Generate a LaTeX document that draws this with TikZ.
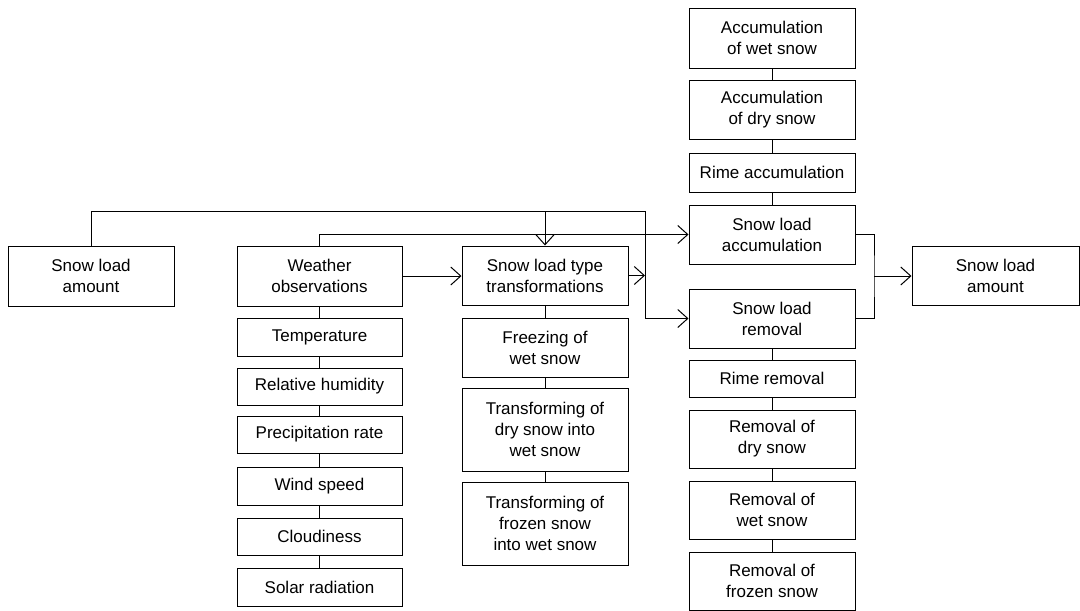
\documentclass[tikz,border=0pt]{standalone}
\usepackage{fontspec}
\setmainfont{Liberation Sans}
\usetikzlibrary{arrows.meta}
\tikzset{
  box/.style={draw=black, line width=1pt, fill=white, align=center, inner sep=2pt,
    font=\fontsize{17}{21}\selectfont},
  link/.style={draw=black, line width=1pt},
  arr/.style={link, -{Straight Barb[length=10pt,width=18pt,line width=1pt]}}
}
\begin{document}
\begin{tikzpicture}[x=1pt,y=-1pt]
\useasboundingbox (0,0) rectangle (1080,611);
% left
\node[box, minimum width=166pt, minimum height=60pt] (amt1) at (91,276) {Snow load\\amount};
% weather column
\node[box, minimum width=165pt, minimum height=60pt] (wo) at (319.5,276) {Weather\\observations};
\node[box, minimum width=165pt, minimum height=38pt] (temp) at (319.5,337) {Temperature};
\node[box, minimum width=165pt, minimum height=37pt] (rh) at (319.5,386.5) {Relative humidity};
\node[box, minimum width=165pt, minimum height=37pt] (pr) at (319.5,434.5) {Precipitation rate};
\node[box, minimum width=165pt, minimum height=38pt] (ws) at (319.5,486) {Wind speed};
\node[box, minimum width=165pt, minimum height=37pt] (cl) at (319.5,536.5) {Cloudiness};
\node[box, minimum width=165pt, minimum height=38pt] (sr) at (319.5,587) {Solar radiation};
% transformation column
\node[box, minimum width=166pt, minimum height=59pt] (stt) at (545,275.5) {Snow load type\\transformations};
\node[box, minimum width=166pt, minimum height=59pt] (fz) at (545,347.5) {Freezing of\\wet snow};
\node[box, minimum width=166pt, minimum height=83pt] (dw) at (545,429.5) {Transforming of\\dry snow into\\wet snow};
\node[box, minimum width=166pt, minimum height=83pt] (fw) at (545,523.5) {Transforming of\\frozen snow\\into wet snow};
% accumulation / removal column
\node[box, minimum width=166pt, minimum height=60pt] (aw) at (772,38) {Accumulation\\of wet snow};
\node[box, minimum width=166pt, minimum height=59pt] (ad) at (772,109.5) {Accumulation\\of dry snow};
\node[box, minimum width=166pt, minimum height=39pt] (ra) at (772,172.5) {Rime accumulation};
\node[box, minimum width=166pt, minimum height=59pt] (sla) at (772,234.5) {Snow load\\accumulation};
\node[box, minimum width=166pt, minimum height=59pt] (slr) at (772,318.5) {Snow load\\removal};
\node[box, minimum width=166pt, minimum height=37pt] (rr) at (772,378.5) {Rime removal};
\node[box, minimum width=166pt, minimum height=58pt] (rd) at (772,439) {Removal of\\dry snow};
\node[box, minimum width=166pt, minimum height=58pt] (rw) at (772,510) {Removal of\\wet snow};
\node[box, minimum width=166pt, minimum height=58pt] (rf) at (772,581) {Removal of\\frozen snow};
% right
\node[box, minimum width=167pt, minimum height=59pt] (amt2) at (995.5,275.5) {Snow load\\amount};
% junction coordinates
\coordinate (j1) at (645,211);
\coordinate (j2) at (874,276);
% connectors
\draw[arr] (amt1.north) |- (j1) |- (slr.west);
\draw[arr] (stt.north |- j1) -- (stt.north);
\draw[arr] (wo.north) |- (sla.west);
\draw[arr] (wo.east) -- (wo.east -| stt.west);
\draw[arr] (stt.east) -- (stt.east -| j1);
\draw[link] (sla.east) -| (j2) |- (slr.east);
\draw[arr] (j2) -- (j2 -| amt2.west);
% column links
\draw[link] (wo.south) -- (temp.north);
\draw[link] (temp.south) -- (rh.north);
\draw[link] (rh.south) -- (pr.north);
\draw[link] (pr.south) -- (ws.north);
\draw[link] (ws.south) -- (cl.north);
\draw[link] (cl.south) -- (sr.north);
\draw[link] (stt.south) -- (fz.north);
\draw[link] (fz.south) -- (dw.north);
\draw[link] (dw.south) -- (fw.north);
\draw[link] (aw.south) -- (ad.north);
\draw[link] (ad.south) -- (ra.north);
\draw[link] (ra.south) -- (sla.north);
\draw[link] (slr.south) -- (rr.north);
\draw[link] (rr.south) -- (rd.north);
\draw[link] (rd.south) -- (rw.north);
\draw[link] (rw.south) -- (rf.north);
\end{tikzpicture}
\end{document}
